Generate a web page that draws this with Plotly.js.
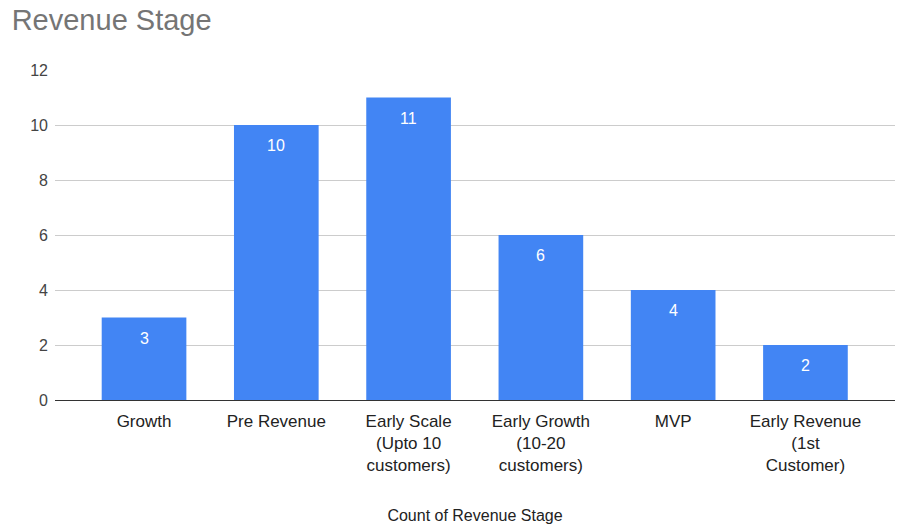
<!DOCTYPE html>
<html><head><meta charset="utf-8">
<script src="https://cdn.plot.ly/plotly-3.0.1.min.js"></script>
<style>body{margin:0;}#chart{width:898px;height:525px;}</style>
</head><body><div id="chart"></div>
<script>
const categories = ["Growth", "Pre Revenue", "Early Scale<br>(Upto 10<br>customers)", "Early Growth<br>(10-20<br>customers)", "MVP", "Early Revenue<br>(1st<br>Customer)"];
const counts = [3, 10, 11, 6, 4, 2];
const yTicks = [0, 2, 4, 6, 8, 10, 12];

const FONT = '"Liberation Sans", Arial, sans-serif';
const annotations = categories.map((c, i) => ({
  x: i, y: counts[i], xref: 'x', yref: 'y',
  text: String(counts[i]), showarrow: false,
  yanchor: 'top', yshift: -10,
  font: {family: FONT, size: 16, color: '#ffffff'}
}));

Plotly.newPlot('chart', [{
  type: 'bar',
  x: categories.map((c, i) => i),
  y: counts,
  marker: {color: '#4285F4'},
  width: 0.64,
  hoverinfo: 'none'
}], {
  width: 898, height: 525,
  margin: {l: 55, r: 3, t: 70, b: 125},
  paper_bgcolor: '#ffffff', plot_bgcolor: '#ffffff',
  font: {family: FONT, color: '#222222', size: 16},
  title: {text: 'Revenue Stage', x: 0.013, xanchor: 'left', y: 0.963, yanchor: 'middle',
    font: {family: FONT, size: 29, color: '#757575'}},
  xaxis: {
    range: [-0.673, 5.677],
    tickmode: 'array', tickvals: categories.map((c, i) => i), ticktext: categories,
    showgrid: false, zeroline: false, showline: false, ticks: '',
    ticklabelstandoff: 9,
    tickfont: {size: 17, color: '#222222'},
    title: {text: 'Count of Revenue Stage', standoff: 35, font: {size: 16, color: '#222222'}}
  },
  yaxis: {
    range: [0, 12], tickmode: 'array', tickvals: yTicks,
    showgrid: true, gridcolor: '#cccccc', gridwidth: 1,
    zeroline: true, zerolinecolor: '#333333', zerolinewidth: 1,
    ticks: '', ticklen: 0, ticklabelstandoff: 6, tickfont: {size: 16, color: '#444444'},
    automargin: false
  },
  annotations: annotations,
  showlegend: false
}, {displayModeBar: false, staticPlot: true});
</script>
</body></html>
